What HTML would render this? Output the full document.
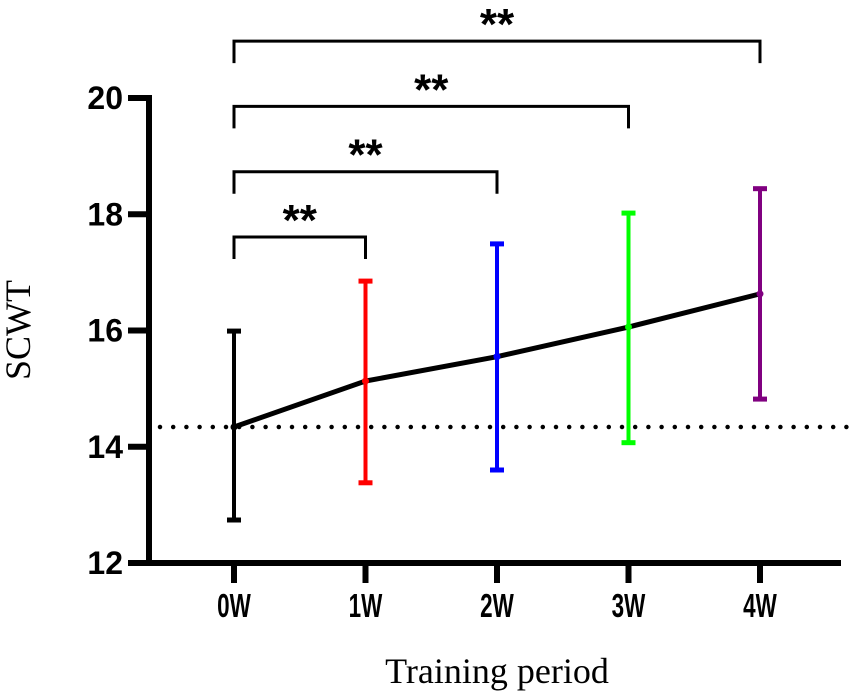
<!DOCTYPE html>
<html><head><meta charset="utf-8"><style>
html,body{margin:0;padding:0;background:#fff}
svg{display:block}
text{font-family:"Liberation Sans",sans-serif}
text.serif{font-family:"Liberation Serif",serif}
</style></head><body>
<svg id="chart" width="854" height="692"></svg>
<script>
const categories=["0W","1W","2W","3W","4W"];
const means=[14.34,15.13,15.55,16.06,16.63];
const upper=[15.99,16.85,17.49,18.02,18.44];
const lower=[12.74,13.38,13.60,14.07,14.82];
const colors=["#000000","#ff0000","#0000ff","#00ff00","#800080"];
const yTicks=[12,14,16,18,20];
const baseline=[14.34];
const brackets=[[0,1],[0,2],[0,3],[0,4]];
const bracketLabels=["**","**","**","**"];

const NS="http://www.w3.org/2000/svg";
const svg=document.getElementById('chart');
function y(v){return 563-(v-12)*58.125;}
function x(i){return 234+i*131.5;}
function el(t,a,p){const e=document.createElementNS(NS,t);for(const k in a)e.setAttribute(k,a[k]);(p||svg).appendChild(e);return e;}

const bl=el('line',{x1:160,x2:848,y1:y(baseline[0]),y2:y(baseline[0]),stroke:'#000','stroke-width':4.5,'stroke-dasharray':'0 13.2','stroke-linecap':'round'});



const ya=el('line',{x1:149,x2:149,y1:95,y2:566,stroke:'#000','stroke-width':6});


const xa=el('line',{x1:146,x2:841,y1:563,y2:563,stroke:'#000','stroke-width':6});



yTicks.forEach(t=>{
  const tk=el('line',{x1:128,x2:149,y1:y(t),y2:y(t),stroke:'#000','stroke-width':6});
  
  
  const lb=el('text',{x:123,y:y(t)+11,'text-anchor':'end','font-size':32,'font-weight':'bold'});
  lb.textContent=t;
  
  
});
categories.forEach((c,i)=>{
  const tk=el('line',{x1:x(i),x2:x(i),y1:563,y2:583,stroke:'#000','stroke-width':6});
  
  
  const lb=el('text',{x:x(i),y:617,'text-anchor':'middle','font-size':33,'font-weight':'bold',transform:`translate(${x(i)},0) scale(0.68,1) translate(${-x(i)},0)`});
  lb.textContent=c;
  
  
});

categories.forEach((c,i)=>{
  const g=el('g',{stroke:colors[i],'stroke-width':4});
  
  
  el('line',{x1:x(i),x2:x(i),y1:y(upper[i]),y2:y(lower[i])},g);
  el('line',{x1:x(i)-7,x2:x(i)+7,y1:y(upper[i]),y2:y(upper[i]),'stroke-width':5},g);
  el('line',{x1:x(i)-7,x2:x(i)+7,y1:y(lower[i]),y2:y(lower[i]),'stroke-width':5},g);
});
const pl=el('polyline',{points:means.map((m,i)=>x(i)+','+y(m)).join(' '),fill:'none',stroke:'#000','stroke-width':5});


means.forEach((m,i)=>{
  const p=el('circle',{cx:x(i),cy:y(m),r:3.5,fill:colors[i]});
  
  
});

brackets.forEach((b,k)=>{
  const top=237-k*65.3;
  const g=el('g',{});
  
  
  el('polyline',{points:`${x(b[0])},${top+22} ${x(b[0])},${top} ${x(b[1])},${top} ${x(b[1])},${top+22}`,fill:'none',stroke:'#000','stroke-width':3},g);
  const t=el('text',{x:(x(b[0])+x(b[1]))/2,y:top-2,'text-anchor':'middle','font-size':44,'font-weight':'bold'},g);
  t.textContent=bracketLabels[k];
});

const yt=el('text',{x:0,y:0,'text-anchor':'middle','font-size':36,'class':'serif',transform:'translate(30,330) rotate(-90)'});
yt.textContent='SCWT';


const xt=el('text',{x:497,y:683,'text-anchor':'middle','font-size':36,'class':'serif'});
xt.textContent='Training period';


</script>
</body></html>
